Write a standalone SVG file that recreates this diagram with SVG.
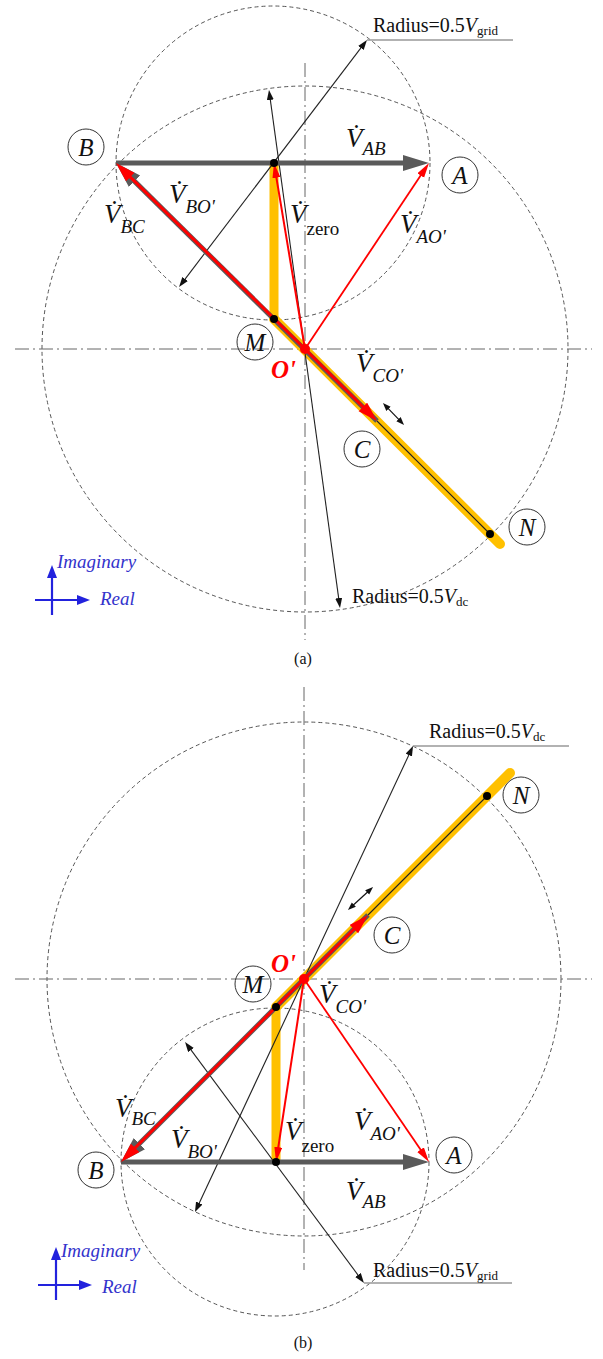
<svg xmlns="http://www.w3.org/2000/svg" width="603" height="1359" viewBox="0 0 603 1359">
<style>
text{font-family:"Liberation Serif","Times New Roman",serif;fill:#111}
.dc{fill:none;stroke:#555;stroke-width:1;stroke-dasharray:4 3}
.ax{fill:none;stroke:#666;stroke-width:1;stroke-dasharray:14 4 2 4}
.orv{stroke:#FFC000;stroke-width:9}
.ord{stroke:#FFC000;stroke-width:10;stroke-linecap:round}
.gr{stroke:#5a5a5a;stroke-width:5;marker-end:url(#mg)}
.rs{stroke:#f00;stroke-width:1.8;marker-end:url(#mrs)}
.rb{stroke:#f00;stroke-width:3;marker-end:url(#mrb)}
.tk{stroke:#222;stroke-width:1.1}
.dbl{stroke:#222;stroke-width:1.1;marker-start:url(#mk);marker-end:url(#mk)}
.sd{stroke:#111;stroke-width:1.2;marker-start:url(#mt);marker-end:url(#mt)}
.ul{stroke:#999;stroke-width:1.6}
.bl{stroke:#2222dd;stroke-width:2.2;marker-end:url(#mb)}
.nc{fill:#fff;fill-opacity:0;stroke:#333;stroke-width:1}
.nl{font-style:italic;font-size:25px;text-anchor:middle}
.v{font-style:italic;font-size:27px}
.s{font-size:19px}
.rad{font-size:20px}
.op{font-style:italic;font-weight:bold;font-size:25px;fill:#f00}
.bt{font-style:italic;font-size:19px;fill:#3333cc}
.cap{font-size:16px;text-anchor:middle}
</style>
<defs>
<marker id="mg" markerUnits="userSpaceOnUse" markerWidth="28" markerHeight="18" refX="2" refY="8" orient="auto"><path d="M0,0 L26,8 L0,16 z" fill="#5a5a5a"/></marker>
<marker id="mrs" markerUnits="userSpaceOnUse" markerWidth="16" markerHeight="10" refX="2" refY="4" orient="auto"><path d="M0,0 L15,4 L0,8 z" fill="#f00"/></marker>
<marker id="mrb" markerUnits="userSpaceOnUse" markerWidth="22" markerHeight="14" refX="2" refY="6" orient="auto"><path d="M0,0 L20,6 L0,12 z" fill="#f00"/></marker>
<marker id="mk" markerUnits="userSpaceOnUse" markerWidth="12" markerHeight="8" refX="1" refY="3.5" orient="auto-start-reverse"><path d="M0,0 L10,3.5 L0,7 z" fill="#111"/></marker>
<marker id="mt" markerUnits="userSpaceOnUse" markerWidth="10" markerHeight="8" refX="1" refY="3" orient="auto-start-reverse"><path d="M0,0 L8,3 L0,6 z" fill="#111"/></marker>
<marker id="mb" markerUnits="userSpaceOnUse" markerWidth="14" markerHeight="12" refX="1" refY="5" orient="auto"><path d="M0,0 L13,5 L0,10 z" fill="#2222dd"/></marker>
</defs>

<!-- ================= Panel (a) ================= -->
<g id="a-guides">
<circle class="dc" cx="305" cy="349" r="263"/>
<circle class="dc" cx="273" cy="163" r="157"/>
<line class="ax" x1="15" y1="349" x2="592" y2="349"/>
<line class="ax" x1="305" y1="63" x2="305" y2="640"/>
</g>
<g id="a-connectors">
<line class="orv" x1="274" y1="163" x2="274" y2="319"/>
<line class="ord" x1="274" y1="319" x2="500" y2="544"/>
<line class="tk" x1="377" y1="421" x2="490" y2="534"/>
<line class="dbl" x1="184.5" y1="279.8" x2="361.5" y2="47.2"/>
<line class="ul" x1="367" y1="40" x2="513" y2="40"/>
<line class="dbl" x1="270.2" y1="98.9" x2="338.8" y2="599.1"/>
<line class="sd" x1="387.8" y1="408.1" x2="399.2" y2="419.9"/>
<line class="gr" x1="116" y1="163" x2="405" y2="163"/>
<line class="gr" x1="377" y1="421" x2="133.1" y2="179.9"/>
<line class="rs" x1="305" y1="349" x2="421.8" y2="173.8"/>
<line class="rb" x1="305" y1="349" x2="128.8" y2="175.6"/>
<line class="rs" x1="305" y1="349" x2="276.1" y2="175.8" style="stroke-width:2"/>
<line class="rb" x1="305" y1="349" x2="364.3" y2="408.3"/>
<circle cx="274" cy="163" r="4" fill="#000"/>
<circle cx="274" cy="319" r="4" fill="#000"/>
<circle cx="490" cy="534" r="4" fill="#000"/>
<circle cx="305" cy="349" r="5" fill="#f00"/>
</g>
<g id="a-A"><circle class="nc" cx="460" cy="175" r="18"/><text class="nl" x="460" y="184">A</text></g>
<g id="a-B"><circle class="nc" cx="86" cy="147" r="18"/><text class="nl" x="86" y="156">B</text></g>
<g id="a-M"><circle class="nc" cx="255" cy="342" r="18"/><text class="nl" x="255" y="351">M</text></g>
<g id="a-C"><circle class="nc" cx="362" cy="449" r="18"/><text class="nl" x="362" y="458">C</text></g>
<g id="a-N"><circle class="nc" cx="527" cy="527" r="18"/><text class="nl" x="527" y="536">N</text></g>
<g id="a-O"><text class="op" x="271" y="378">O'</text></g>
<g id="a-labels">
<text class="v" x="346" y="147">V&#x307;<tspan class="s" dy="8">AB</tspan></text>
<text class="v" x="169" y="203">V&#x307;<tspan class="s" dy="10">BO'</tspan></text>
<text class="v" x="104" y="223">V&#x307;<tspan class="s" dy="10">BC</tspan></text>
<text class="v" x="290" y="223">V&#x307;<tspan class="s" dy="12" style="font-style:normal">zero</tspan></text>
<text class="v" x="400" y="233">V&#x307;<tspan class="s" dy="10">AO'</tspan></text>
<text class="v" x="356" y="372">V&#x307;<tspan class="s" dy="10">CO'</tspan></text>
<text class="rad" x="373" y="32">Radius=0.5<tspan font-style="italic">V</tspan><tspan font-size="13" dy="3">grid</tspan></text>
<text class="rad" x="352" y="603">Radius=0.5<tspan font-style="italic">V</tspan><tspan font-size="13" dy="3">dc</tspan></text>
</g>
<g id="a-axes">
<line class="bl" x1="52" y1="615" x2="52" y2="577"/>
<line class="bl" x1="35" y1="600" x2="78" y2="600"/>
<text class="bt" x="57" y="568">Imaginary</text>
<text class="bt" x="100" y="605">Real</text>
</g>
<text class="cap" x="303" y="664">(a)</text>

<!-- ================= Panel (b) ================= -->
<g id="b-guides">
<circle class="dc" cx="304" cy="979" r="257"/>
<circle class="dc" cx="275" cy="1162" r="154"/>
<line class="ax" x1="15" y1="979" x2="592" y2="979"/>
<line class="ax" x1="304" y1="687" x2="304" y2="1270"/>
</g>
<g id="b-connectors">
<line class="orv" x1="276" y1="1007" x2="276" y2="1162"/>
<line class="ord" x1="276" y1="1007" x2="510" y2="773"/>
<line class="tk" x1="368" y1="915" x2="487" y2="796"/>
<line class="dbl" x1="190.4" y1="1049.2" x2="358.6" y2="1275.8"/>
<line class="ul" x1="364" y1="1283" x2="512" y2="1283"/>
<line class="dbl" x1="409.2" y1="754.2" x2="198.8" y2="1203.9"/>
<line class="ul" x1="413" y1="746" x2="569" y2="746"/>
<line class="sd" x1="353.1" y1="905.3" x2="367.9" y2="891.7"/>
<line class="gr" x1="121" y1="1162" x2="405" y2="1162"/>
<line class="gr" x1="368" y1="915" x2="138" y2="1145"/>
<line class="rs" x1="304" y1="979" x2="421.7" y2="1151.3"/>
<line class="rb" x1="304" y1="979" x2="133.7" y2="1149.3"/>
<line class="rs" x1="304" y1="979" x2="278" y2="1149.1" style="stroke-width:2"/>
<line class="rb" x1="304" y1="979" x2="355.3" y2="927.7"/>
<circle cx="276" cy="1162" r="4" fill="#000"/>
<circle cx="276" cy="1007" r="4" fill="#000"/>
<circle cx="487" cy="796" r="4" fill="#000"/>
<circle cx="304" cy="979" r="5" fill="#f00"/>
</g>
<g id="b-A"><circle class="nc" cx="454" cy="1155" r="18"/><text class="nl" x="454" y="1164">A</text></g>
<g id="b-B"><circle class="nc" cx="96" cy="1170" r="18"/><text class="nl" x="96" y="1179">B</text></g>
<g id="b-M"><circle class="nc" cx="253" cy="984" r="18"/><text class="nl" x="253" y="993">M</text></g>
<g id="b-C"><circle class="nc" cx="392" cy="935" r="18"/><text class="nl" x="392" y="944">C</text></g>
<g id="b-N"><circle class="nc" cx="521" cy="795" r="18"/><text class="nl" x="521" y="804">N</text></g>
<g id="b-O"><text class="op" x="271" y="972">O'</text></g>
<g id="b-labels">
<text class="v" x="319" y="1003">V&#x307;<tspan class="s" dy="10">CO'</tspan></text>
<text class="v" x="115" y="1117">V&#x307;<tspan class="s" dy="8">BC</tspan></text>
<text class="v" x="171" y="1148">V&#x307;<tspan class="s" dy="10">BO'</tspan></text>
<text class="v" x="285" y="1140">V&#x307;<tspan class="s" dy="12" style="font-style:normal">zero</tspan></text>
<text class="v" x="354" y="1130">V&#x307;<tspan class="s" dy="10">AO'</tspan></text>
<text class="v" x="346" y="1200">V&#x307;<tspan class="s" dy="8">AB</tspan></text>
<text class="rad" x="429" y="738">Radius=0.5<tspan font-style="italic">V</tspan><tspan font-size="13" dy="3">dc</tspan></text>
<text class="rad" x="373" y="1277">Radius=0.5<tspan font-style="italic">V</tspan><tspan font-size="13" dy="3">grid</tspan></text>
</g>
<g id="b-axes">
<line class="bl" x1="56" y1="1300" x2="56" y2="1259"/>
<line class="bl" x1="38" y1="1285" x2="80" y2="1285"/>
<text class="bt" x="61" y="1257">Imaginary</text>
<text class="bt" x="102" y="1293">Real</text>
</g>
<text class="cap" x="303" y="1348">(b)</text>
</svg>
